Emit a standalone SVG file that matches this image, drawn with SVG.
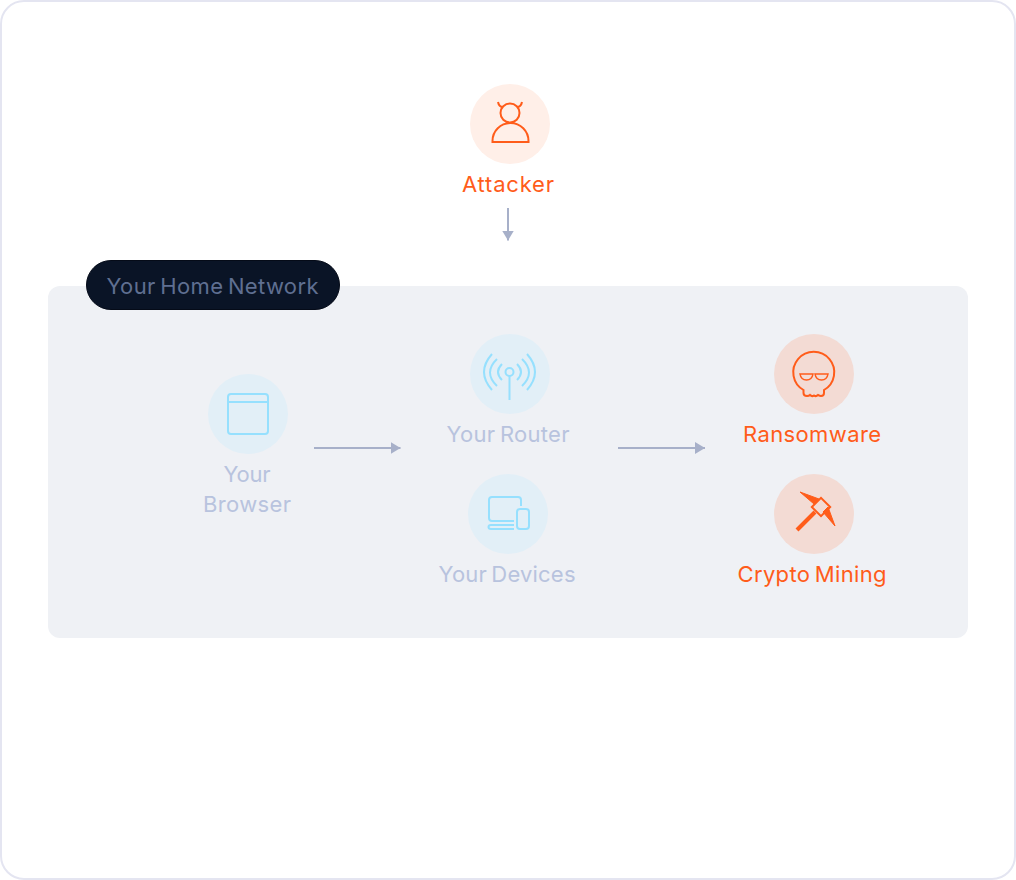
<svg xmlns="http://www.w3.org/2000/svg" width="1016" height="880" viewBox="0 0 1016 880">
<defs>
<marker id="ah" markerUnits="userSpaceOnUse" markerWidth="12" markerHeight="14" refX="10" refY="6" orient="auto"><path d="M0 0L10 6L0 12Z" fill="#a7b0c9"/></marker>
</defs>
<style>
text{font-family:"Inter","Liberation Sans",sans-serif;font-size:22px;text-anchor:middle;word-spacing:-2px}
.o{fill:#ff5c1a}.m{fill:#b8c3de}
.ic{fill:none;stroke-width:2}
.io{stroke:#ff5c1a}.ib{stroke:#96e0fe}
.conn{stroke:#a7b0c9;stroke-width:2;fill:none;marker-end:url(#ah)}
</style>
<rect x="1" y="1" width="1014" height="878" rx="23" fill="#fff" stroke="#e4e5f1" stroke-width="2"/>
<rect id="network" x="48" y="286" width="920" height="352" rx="12" fill="#eff1f5"/>
<g id="network-label"><rect x="86.500" y="260.500" width="253" height="49" rx="24.500" fill="#0a1426" stroke="#050b18" stroke-width="1"/><text x="212.500" y="294" textLength="212" fill="#5f6f91">Your Home Network</text></g>
<g id="connectors">
<path class="conn" d="M508 208V240.500"/>
<path class="conn" d="M314 448H400.500"/>
<path class="conn" d="M618 448H705"/>
</g>
<g id="attacker"><circle cx="510" cy="124" r="40" fill="#ffefe8"/>
<g class="ic io"><circle cx="510" cy="113" r="9.500"/><path d="M498 102Q499 107 503 107M522 102Q521 107 517 107M492.500 142H528.500V141A18 18 0 0 0 492.500 141Z"/></g>
<text class="o" x="508" y="192" textLength="92">Attacker</text></g>
<g id="browser"><circle cx="248" cy="414" r="40" fill="#e2eff7"/>
<g class="ic ib"><rect x="228" y="394" width="40" height="40" rx="3"/><path d="M228 402H268"/></g>
<text class="m" x="247" y="482" textLength="47">Your</text><text class="m" x="247" y="512" textLength="88">Browser</text></g>
<g id="router"><circle cx="510" cy="374" r="40" fill="#e2eff7"/>
<g class="ic ib"><circle cx="509.500" cy="372" r="4"/><path d="M509.500 376V400M502 364Q494 372 502 380M517 364Q525 372 517 380M497 359Q483 372.500 497 386M522 359Q536 372.500 522 386M492 354Q476 372 492 390M527 354Q543 372 527 390"/></g>
<text class="m" x="508" y="442" textLength="123">Your Router</text></g>
<g id="devices"><circle cx="508" cy="514" r="40" fill="#e2eff7"/>
<g class="ic ib"><path d="M521 506V500Q521 497 518 497H492Q489 497 489 500V518Q489 521 492 521H514M514 525H491Q488.500 525 488.500 527Q488.500 529 491 529H514"/><rect x="517" y="509" width="12" height="20" rx="3"/></g>
<text class="m" x="507" y="582" textLength="137">Your Devices</text></g>
<g id="ransomware"><circle cx="814" cy="374" r="40" fill="#f3dbd4"/>
<g class="ic io"><path d="M803.500 390V393Q803.500 396 807 396Q809 396 810 395Q812 397 814 395.500Q816 397 818 395Q820 396 821 396Q824 396 824 393V390A20.500 20.500 0 1 0 803.500 390Z"/><path d="M800 374H813Q812 380 806.500 380Q801 380 800 374ZM815 374H828Q827 380 821.500 380Q816 380 815 374Z" stroke-width="1.500"/></g>
<text class="o" x="812" y="442" textLength="138">Ransomware</text></g>
<g id="crypto"><circle cx="814" cy="514" r="40" fill="#f3dbd4"/>
<g class="ic io"><path d="M797 530L815 512" stroke-width="4"/><rect x="-6.500" y="-6.500" width="13" height="13" transform="translate(821 507) rotate(45)"/><path d="M800 492L819 499L814 504ZM835 526L828 507L823 512Z" stroke-width="1" fill="#ff5c1a"/></g>
<text class="o" x="812" y="582" textLength="149">Crypto Mining</text></g>
</svg>
